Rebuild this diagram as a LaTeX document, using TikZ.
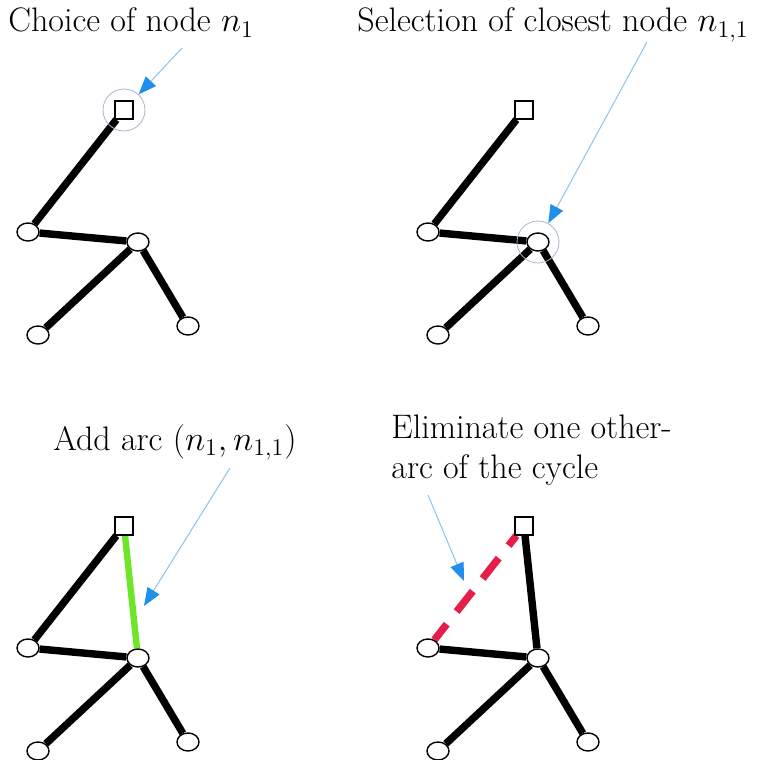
\documentclass[tikz,border=0pt]{standalone}
\definecolor{hintBlue}{RGB}{30,144,235}
\definecolor{hintLine}{RGB}{135,195,240}
\definecolor{pickGray}{RGB}{165,182,205}
\definecolor{arcGreen}{RGB}{110,230,40}
\definecolor{arcRed}{RGB}{228,30,72}
\usepackage{tikz}
\usepackage{amsmath}
\usetikzlibrary{arrows.meta,positioning,shapes.geometric,backgrounds}

\begin{document}
\begin{tikzpicture}[x=0.5pt, y=-0.5pt,
  sq/.style={draw, line width=0.7pt, fill=white, minimum size=9pt, inner sep=0pt},
  vtx/.style={draw, ellipse, line width=0.7pt, fill=white, minimum width=11pt,
              minimum height=9pt, inner sep=0pt},
  pick/.style={draw=pickGray, circle, line width=0.4pt, minimum size=21pt, inner sep=0pt},
  edge/.style={line width=3.7pt},
  newarc/.style={line width=3.2pt, arcGreen},
  cutarc/.style={line width=3.7pt, arcRed, dash pattern=on 13pt off 8pt, dash phase=3pt},
  hint/.style={-{Triangle[length=9pt, width=7pt, color=hintBlue]}, line width=0.5pt, hintLine},
  title/.style={inner sep=0pt, font=\fontsize{17}{20}\selectfont}
]
  \useasboundingbox (0,0) rectangle (762,760);

  \foreach \p/\dx/\dy in {1/0/0, 2/400/0, 3/0/416, 4/400/416} {
    \begin{scope}[shift={(\dx,\dy)}]
      \node[sq]  (s\p) at (124,110) {};
      \node[vtx] (l\p) at (28,232)  {};
      \node[vtx] (m\p) at (138,242) {};
      \node[vtx] (a\p) at (38,335)  {};
      \node[vtx] (b\p) at (188,326) {};
    \end{scope}
  }

  \begin{scope}[on background layer]
    \foreach \p in {1,2,3}
      \draw[edge] (s\p) -- (l\p) -- (m\p) -- (a\p) (m\p) -- (b\p);
    \draw[newarc] (s3) -- (m3);
    \draw[edge] (s4) -- (m4) -- (a4) (m4) -- (b4) (l4) -- (m4);
    \draw[cutarc] (l4) -- (s4);
  \end{scope}

  \node[pick] (p1) at (s1) {};
  \node[pick] (p2) at (m2) {};

  \node[title, anchor=base west] (t1) at (8,32)  {Choice of node $n_1$};
  \node[title, anchor=base west] (t2) at (357,32) {Selection of closest node $n_{1,1}$};
  \node[title, anchor=base west] (t3) at (53,450) {Add arc $(n_1,n_{1,1})$};
  \node[title, anchor=north west, align=left] (t4) at (391,415) {Eliminate one other-\\arc of the cycle};

  \coordinate (h1) at (182,48);
  \coordinate (h2) at (647,42);
  \coordinate (h3) at (230,468);
  \coordinate (h4) at (428,495);
  \coordinate (e3) at (144,606);
  \coordinate (e4) at (464,581);

  \draw[hint] (h1) -- (p1);
  \draw[hint] (h2) -- (p2);
  \draw[hint] (h3) -- (e3);
  \draw[hint] (h4) -- (e4);
\end{tikzpicture}
\end{document}
